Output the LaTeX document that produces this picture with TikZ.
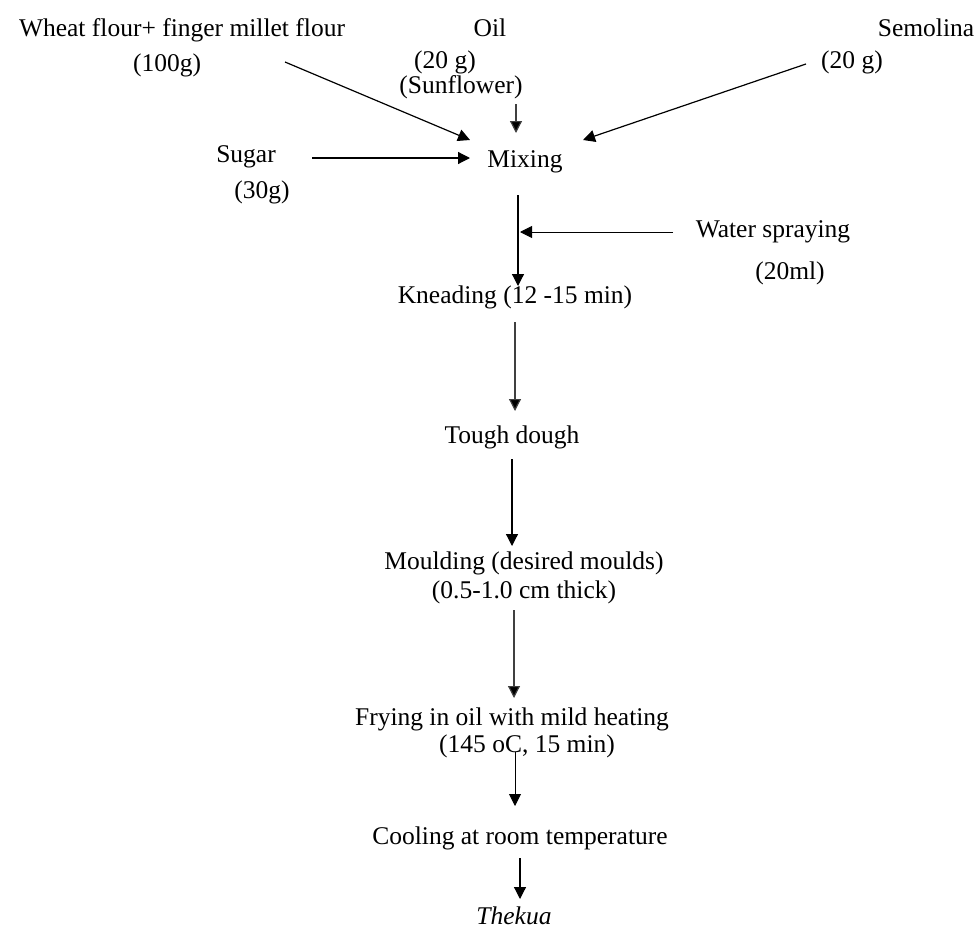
\documentclass[tikz,border=0pt]{standalone}
\usepackage{fontspec}
\setmainfont{Liberation Serif}
\usetikzlibrary{arrows.meta}
\begin{document}
\begin{tikzpicture}[x=1pt,y=-1pt,
  txt/.style={inner sep=0pt,font=\fontsize{25.5}{28}\selectfont},
  arr/.style={line width=1.2pt,-{Triangle[length=12pt,width=12pt]}},
  garr/.style={arr,draw=black!75,-{Triangle[length=12pt,width=12pt,fill=black]}}]
\useasboundingbox (0,0) rectangle (980,929);
% ingredients
\node[txt] (wheat) at (182,30) {Wheat flour+ finger millet flour};
\node[txt] (w100) at (167,65) {(100g)};
\node[txt] (oil) at (490,28) {Oil};
\node[txt] (oil20) at (445,62) {(20 g)};
\node[txt] (sunfl) at (461,87) {(Sunflower)};
\node[txt] (semo) at (926,28) {Semolina};
\node[txt] (semo20) at (852,62) {(20 g)};
\node[txt] (sugar) at (246,157) {Sugar};
\node[txt] (s30) at (262,192) {(30g)};
\node[txt] (mixing) at (525,162) {Mixing};
\node[txt] (water) at (773,232) {Water spraying};
\node[txt] (w20) at (790,273) {(20ml)};
% process
\node[txt] (knead) at (515,297) {Kneading (12 -15 min)};
\node[txt] (tough) at (512,437) {Tough dough};
\node[txt] (mould) at (524,563) {Moulding (desired moulds)};
\node[txt] (mould2) at (524,592) {(0.5-1.0 cm thick)};
\node[txt] (fry) at (512,719) {Frying in oil with mild heating};
\node[txt] (fry2) at (527,746) {(145 oC, 15 min)};
\node[txt] (cool) at (520,838) {Cooling at room temperature};
\node[txt] (thekua) at (514,916) {\itshape Thekua};
% connector end points
\coordinate (wA) at (285,62);   \coordinate (wB) at (470,140);
\coordinate (oA) at (516,104);  \coordinate (oB) at (516,133);
\coordinate (sA) at (806,64);   \coordinate (sB) at (583,140);
\coordinate (gA) at (312,158);  \coordinate (gB) at (470,158);
\coordinate (mA) at (518,195);  \coordinate (mB) at (518,286);
\coordinate (wtA) at (673,232); \coordinate (wtB) at (520,232);
\coordinate (kA) at (515,322);  \coordinate (kB) at (515,411);
\coordinate (tA) at (512,459);  \coordinate (tB) at (512,546);
\coordinate (mdA) at (514,610); \coordinate (mdB) at (514,698);
\coordinate (fA) at (515,752);  \coordinate (fB) at (515,806);
\coordinate (cA) at (520,858);  \coordinate (cB) at (520,899);
% connectors
\draw[arr] (wA) -- (wB);
\draw[garr] (oA) -- (oB);
\draw[arr] (sA) -- (sB);
\draw[arr] (gA) -- (gB);
\draw[arr] (mA) -- (mB);
\draw[arr,line width=0.9pt] (wtA) -- (wtB);
\draw[garr] (kA) -- (kB);
\draw[arr] (tA) -- (tB);
\draw[garr] (mdA) -- (mdB);
\draw[arr,line width=0.9pt] (fA) -- (fB);
\draw[arr] (cA) -- (cB);
\end{tikzpicture}
\end{document}
